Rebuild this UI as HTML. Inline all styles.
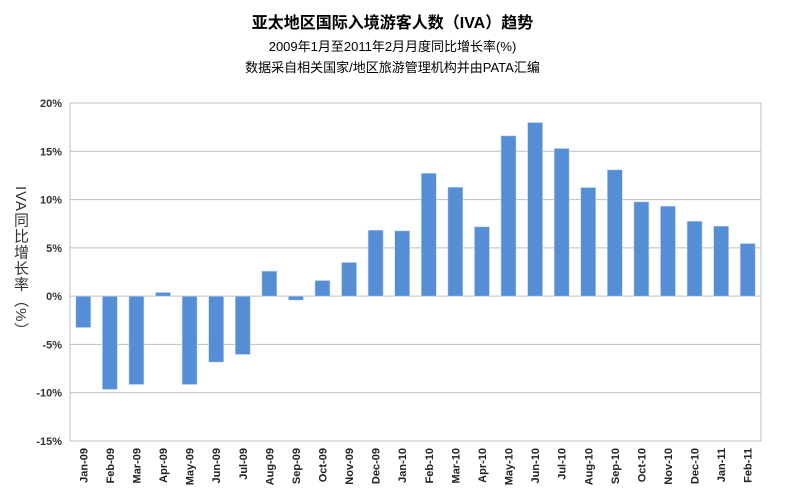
<!DOCTYPE html>
<html><head><meta charset="utf-8"><style>
body{margin:0;background:#fff;width:785px;height:495px;overflow:hidden;font-family:"Liberation Sans","Noto Sans CJK SC",sans-serif}
.t{position:absolute;left:0;width:785px;text-align:center;color:#000}
</style></head><body>
<div class="t" style="top:9px;font-size:16px;font-weight:bold">亚太地区国际入境游客人数（IVA）趋势</div>
<div class="t" style="top:36px;font-size:13px">2009年1月至2011年2月月度同比增长率(%)</div>
<div class="t" style="top:57px;font-size:13px">数据采自相关国家/地区旅游管理机构并由PATA汇编</div>
<div style="position:absolute;left:10px;top:186px;writing-mode:vertical-rl;font-size:15px;letter-spacing:1px;color:#333">IVA同比增长率（%）</div>
<svg id="c" width="785" height="495" style="position:absolute;left:0;top:0"></svg>
<script>
const categories=["Jan-09","Feb-09","Mar-09","Apr-09","May-09","Jun-09","Jul-09","Aug-09","Sep-09","Oct-09","Nov-09","Dec-09","Jan-10","Feb-10","Mar-10","Apr-10","May-10","Jun-10","Jul-10","Aug-10","Sep-10","Oct-10","Nov-10","Dec-10","Jan-11","Feb-11"];
const values=[-3.25,-9.66,-9.15,0.38,-9.15,-6.83,-6.04,2.59,-0.41,1.62,3.49,6.83,6.76,12.73,11.28,7.18,16.6,17.98,15.29,11.25,13.08,9.77,9.32,7.76,7.25,5.45];
const ticks=[20,15,10,5,0,-5,-10,-15];
const tickLabels=["20%","15%","10%","5%","0%","-5%","-10%","-15%"];
const svg=document.getElementById('c'),NS='http://www.w3.org/2000/svg';
const L=70,R=761,T=103,B=441,yMin=-15,yMax=20;
const y=v=>T+(yMax-v)/(yMax-yMin)*(B-T);
const step=(R-L)/categories.length;
const x=i=>L+step*(i+0.5);
function mk(t,a){const e=document.createElementNS(NS,t);for(const k in a)e.setAttribute(k,a[k]);svg.appendChild(e);return e;}
ticks.forEach((v,i)=>{
 const g=mk('line',{x1:L,x2:R,y1:y(v),y2:y(v),stroke:'#bfbfbf','stroke-width':1});
 
 
 const t=mk('text',{x:L-8,y:y(v)+4,'text-anchor':'end','font-size':11,'font-weight':'bold',fill:'#333'});
 t.textContent=tickLabels[i];
 
 
});
const fr=mk('rect',{x:L,y:T,width:R-L,height:B-T,fill:'none',stroke:'#bfbfbf'});


const bw=15;
values.forEach((v,i)=>{
 const y0=y(0),y1=y(v);
 const b=mk('rect',{x:x(i)-bw/2,y:Math.min(y0,y1),width:bw,height:Math.abs(y1-y0),fill:'#558ed5',stroke:'#c6d9f1','stroke-width':0.6});
 
 
});
categories.forEach((c,i)=>{
 const t=mk('text',{x:0,y:0,'text-anchor':'end','font-size':11,'font-weight':'bold',fill:'#222',transform:`translate(${x(i)+4},${B+7}) rotate(-90)`});
 t.textContent=c;
 
 
});
</script>
</body></html>
